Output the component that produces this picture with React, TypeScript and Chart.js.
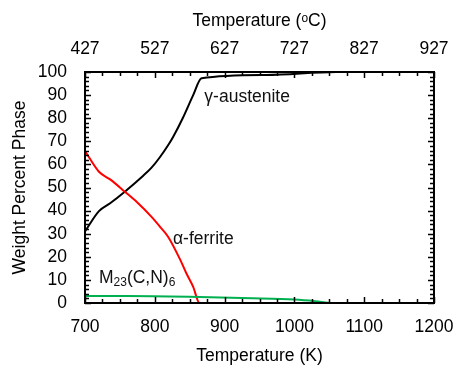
import React, { useEffect, useRef } from 'react';
import { Chart, registerables } from 'chart.js';
Chart.register(...registerables);

// Temperature (K) and weight percent for each phase
const austeniteK = [700, 720, 736, 757, 783, 795, 807, 819, 826, 840, 855, 867, 960, 1060, 1200];
const austenite = [31, 39.8, 43.2, 48.2, 55, 58.5, 63, 68.3, 71.8, 80, 90, 97.3, 98.7, 100, 100];

const ferriteK = [700, 720, 736, 757, 775, 795, 807, 819, 836, 845, 855, 864, 1200];
const ferrite = [65.8, 56.8, 53.5, 48.2, 43.5, 37.4, 33.2, 28.7, 19, 13, 7, 0, 0];

const carbideK = [700, 760, 864, 940, 1000, 1030, 1055, 1200];
const carbide = [3.0, 3.0, 2.6, 2.1, 1.5, 0.8, 0, 0];

const xTicksK = [700, 800, 900, 1000, 1100, 1200];
const yTicks = [0, 10, 20, 30, 40, 50, 60, 70, 80, 90, 100];
const KELVIN_OFFSET = 273;

const FONT = "'Liberation Sans', Arial, sans-serif";

const phaseLabels = [
  { parts: [{ t: 'γ-austenite', sub: false }], k: 871, w: 89.2 },
  { parts: [{ t: 'α-ferrite', sub: false }], k: 826, w: 27.7 },
  {
    parts: [
      { t: 'M', sub: false },
      { t: '23', sub: true },
      { t: '(C,N)', sub: false },
      { t: '6', sub: true },
    ],
    k: 720,
    w: 10.8,
  },
];

function pts(xs: number[], ys: number[]) {
  return xs.map((x, i) => ({ x, y: ys[i] }));
}

export default function App() {
  const ref = useRef<HTMLCanvasElement>(null);
  useEffect(() => {
    const framePlugin = {
      id: 'frameTicks',
      afterDatasetsDraw(chart: any) {
        const { ctx, chartArea, scales } = chart;
        const { left, right, top, bottom } = chartArea;
        const x = scales.x;
        const y = scales.y;
        ctx.save();
        ctx.fillStyle = '#111';
        ctx.textBaseline = 'middle';
        ctx.textAlign = 'left';
        for (const lab of phaseLabels) {
          let px = x.getPixelForValue(lab.k);
          const py = y.getPixelForValue(lab.w);
          for (const p of lab.parts) {
            ctx.font = p.sub ? `12px ${FONT}` : `17.5px ${FONT}`;
            ctx.fillText(p.t, px, p.sub ? py + 5 : py);
            px += ctx.measureText(p.t).width;
          }
        }
        ctx.strokeStyle = '#000';
        ctx.lineWidth = 1.5;
        ctx.beginPath();
        for (let k = 700; k <= 1200; k += 25) {
          const p = Math.round(x.getPixelForValue(k)) + 0.5;
          const len = k % 100 === 0 ? 6 : 4;
          ctx.moveTo(p, bottom);
          ctx.lineTo(p, bottom - len);
          ctx.moveTo(p, top);
          ctx.lineTo(p, top + len);
        }
        for (let v = 0; v <= 100; v += 2) {
          const p = Math.round(y.getPixelForValue(v)) + 0.5;
          const len = v % 10 === 0 ? 6 : 4;
          ctx.moveTo(left, p);
          ctx.lineTo(left + len, p);
          ctx.moveTo(right, p);
          ctx.lineTo(right - len, p);
        }
        ctx.stroke();
        ctx.lineWidth = 2;
        ctx.strokeRect(left, top, right - left, bottom - top);
        ctx.restore();
      },
    };

    const lineStyle = {
      borderWidth: 2,
      pointRadius: 0,
      cubicInterpolationMode: 'monotone',
    };

    const chart = new Chart(ref.current!, {
      type: 'line',
      data: {
        datasets: [
          { label: 'M23(C,N)6', data: pts(carbideK, carbide), borderColor: '#00b050', ...lineStyle },
          { label: 'α-ferrite', data: pts(ferriteK, ferrite), borderColor: '#ff0000', ...lineStyle },
          { label: 'γ-austenite', data: pts(austeniteK, austenite), borderColor: '#000000', ...lineStyle },
        ],
      },
      options: {
        animation: false,
        responsive: true,
        maintainAspectRatio: false,
        layout: { padding: { right: 21, left: 0, top: 0, bottom: 0 } },
        plugins: { legend: { display: false }, tooltip: { enabled: false } },
        scales: {
          x: {
            type: 'linear',
            position: 'bottom',
            min: 700,
            max: 1200,
            afterBuildTicks: (s: any) => {
              s.ticks = xTicksK.map((v) => ({ value: v }));
            },
            afterFit: (s: any) => {
              s.height = 64;
              s.paddingLeft = 0;
              s.paddingRight = 0;
            },
            grid: { display: false, drawTicks: false },
            border: { display: false },
            ticks: {
              color: '#000',
              font: { family: FONT, size: 17.5 },
              padding: 14,
              maxRotation: 0,
              autoSkip: false,
              callback: (v: any) => String(v),
            },
            title: {
              display: true,
              text: 'Temperature (K)',
              color: '#000',
              font: { family: FONT, size: 17.5 },
              padding: { top: 0, bottom: 0 },
            },
          },
          x2: {
            type: 'linear',
            position: 'top',
            min: 700,
            max: 1200,
            afterBuildTicks: (s: any) => {
              s.ticks = xTicksK.map((v) => ({ value: v }));
            },
            afterFit: (s: any) => {
              s.height = 72;
              s.paddingLeft = 0;
              s.paddingRight = 0;
            },
            grid: { display: false, drawTicks: false },
            border: { display: false },
            ticks: {
              color: '#000',
              font: { family: FONT, size: 17.5 },
              padding: 12,
              maxRotation: 0,
              autoSkip: false,
              callback: (v: any) => String(Number(v) - KELVIN_OFFSET),
            },
            title: {
              display: true,
              text: 'Temperature (ᵒC)',
              color: '#000',
              font: { family: FONT, size: 17.5 },
              padding: { top: 10.5, bottom: 0 },
            },
          },
          y: {
            type: 'linear',
            min: 0,
            max: 100,
            afterBuildTicks: (s: any) => {
              s.ticks = yTicks.map((v) => ({ value: v }));
            },
            afterFit: (s: any) => {
              s.width = 85;
              s.paddingTop = 0;
              s.paddingBottom = 0;
            },
            grid: { display: false, drawTicks: false },
            border: { display: false },
            ticks: {
              color: '#000',
              font: { family: FONT, size: 17.5 },
              padding: 18,
              autoSkip: false,
              callback: (v: any) => String(v),
            },
            title: {
              display: true,
              text: 'Weight Percent Phase',
              color: '#000',
              font: { family: FONT, size: 17.5 },
              padding: { top: 9.5, bottom: 0 },
            },
          },
        },
      },
      plugins: [framePlugin],
    } as any);
    return () => chart.destroy();
  }, []);
  return (
    <div style={{ position: 'fixed', left: 0, top: 0, width: 455, height: 367, background: '#fff' }}>
      <canvas ref={ref} />
    </div>
  );
}
